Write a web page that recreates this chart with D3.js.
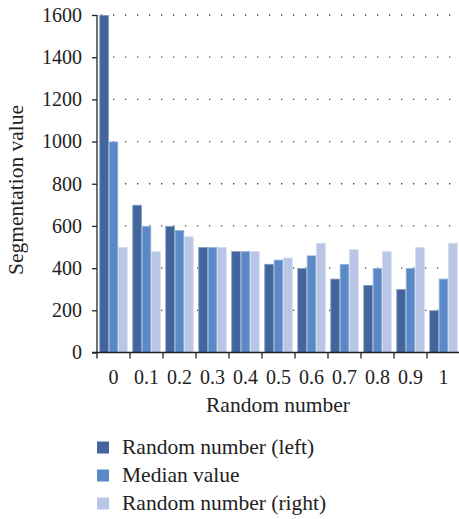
<!DOCTYPE html>
<html>
<head>
<meta charset="utf-8">
<script src="https://cdn.jsdelivr.net/npm/d3@7"></script>
<style>
  html, body { margin: 0; padding: 0; background: #fff; }
  svg { display: block; }
  svg text { font-family: "Liberation Serif", "Times New Roman", serif; }
</style>
</head>
<body>
<svg id="chart" width="459" height="519"></svg>
<script>
// Categories along the x axis
const categories = ["0", "0.1", "0.2", "0.3", "0.4", "0.5", "0.6", "0.7", "0.8", "0.9", "1"];

// Series values
const randomLeft  = [1600, 700, 600, 500, 480, 420, 400, 350, 320, 300, 200];
const medianValue = [1000, 600, 580, 500, 480, 440, 460, 420, 400, 400, 350];
const randomRight = [500, 480, 550, 500, 480, 450, 520, 490, 480, 500, 520];

const seriesNames = ["Random number (left)", "Median value", "Random number (right)"];
const seriesColors = ["#41659c", "#5b88c6", "#bac6e6"];
const yTicks = [0, 200, 400, 600, 800, 1000, 1200, 1400, 1600];

const series = [randomLeft, medianValue, randomRight];

const svg = d3.select("#chart");
const margin = { left: 97, top: 15 };
const plotRight = 460;
const plotBottom = 352.5;

const x = d3.scaleBand().domain(categories).range([margin.left, plotRight]).paddingInner(0).paddingOuter(0);
const inner = d3.scaleBand().domain(d3.range(series.length)).range([0, x.bandwidth()]).paddingOuter(0.25).paddingInner(0);
const y = d3.scaleLinear().domain([0, 1600]).range([plotBottom, margin.top]);

// Dotted gridlines
svg.append("g")
  .selectAll("line")
  .data(yTicks.filter(d => d > 0))
  .join("line")
  .attr("x1", margin.left + 4)
  .attr("x2", plotRight)
  .attr("y1", d => y(d))
  .attr("y2", d => y(d))
  .attr("stroke", "#444")
  .attr("stroke-width", 1.3)
  .attr("stroke-dasharray", "1.3,10.7");

// Bars, with a faint lighter rim
const groups = svg.append("g")
  .selectAll("g")
  .data(categories)
  .join("g")
  .attr("transform", d => `translate(${x(d)},0)`);

groups.selectAll("rect")
  .data((c, i) => series.map((s, k) => ({ k, v: s[i] })))
  .join("rect")
  .attr("x", d => inner(d.k) + 0.4)
  .attr("width", inner.bandwidth() - 0.8)
  .attr("y", d => y(d.v) + 0.4)
  .attr("height", d => y(0) - y(d.v) - 0.4)
  .attr("fill", d => seriesColors[d.k])
  .attr("stroke", d => d3.interpolateRgb(seriesColors[d.k], "#ffffff")(0.35))
  .attr("stroke-width", 0.8);

// Y axis
const yAxis = svg.append("g")
  .attr("transform", `translate(${margin.left},0)`)
  .call(d3.axisLeft(y).tickValues(yTicks).tickSize(5).tickPadding(10).tickFormat(d3.format("d")));
yAxis.attr("font-family", null).attr("font-size", null);
yAxis.select(".domain").attr("stroke", "#222").attr("stroke-width", 1.3).attr("d", `M0,${margin.top}V${plotBottom}`);
yAxis.selectAll(".tick line").attr("stroke", "#222").attr("stroke-width", 1.3);
yAxis.selectAll("text").attr("font-size", 20).attr("fill", "#222");

// X axis: ticks at band boundaries
const xAxisG = svg.append("g").attr("transform", `translate(0,${plotBottom})`);
xAxisG.append("line")
  .attr("x1", margin.left - 5).attr("x2", plotRight)
  .attr("stroke", "#222").attr("stroke-width", 1.3);
xAxisG.selectAll("line.tick")
  .data(categories.map(c => x(c)))
  .join("line")
  .attr("class", "tick")
  .attr("x1", d => d).attr("x2", d => d)
  .attr("y1", 0).attr("y2", 6)
  .attr("stroke", "#222").attr("stroke-width", 1.3);
xAxisG.selectAll("text")
  .data(categories)
  .join("text")
  .attr("x", d => x(d) + x.bandwidth() / 2)
  .attr("y", 31.5)
  .attr("text-anchor", "middle")
  .attr("font-size", 20)
  .attr("fill", "#222")
  .text(d => d);

// Axis titles
svg.append("text")
  .attr("x", 278)
  .attr("y", 411.5)
  .attr("text-anchor", "middle")
  .attr("font-size", 21.5)
  .attr("fill", "#222")
  .text("Random number");

svg.append("text")
  .attr("transform", `translate(23,190) rotate(-90)`)
  .attr("text-anchor", "middle")
  .attr("font-size", 21.5)
  .attr("fill", "#222")
  .text("Segmentation value");

// Legend
const legend = svg.append("g")
  .selectAll("g")
  .data(seriesNames)
  .join("g")
  .attr("transform", (d, i) => `translate(97,${441.5 + i * 28})`);
legend.append("rect")
  .attr("width", 12).attr("height", 12)
  .attr("fill", (d, i) => seriesColors[i]);
legend.append("text")
  .attr("x", 25).attr("y", 12)
  .attr("font-size", 21.5)
  .attr("fill", "#222")
  .text(d => d);
</script>
</body>
</html>
